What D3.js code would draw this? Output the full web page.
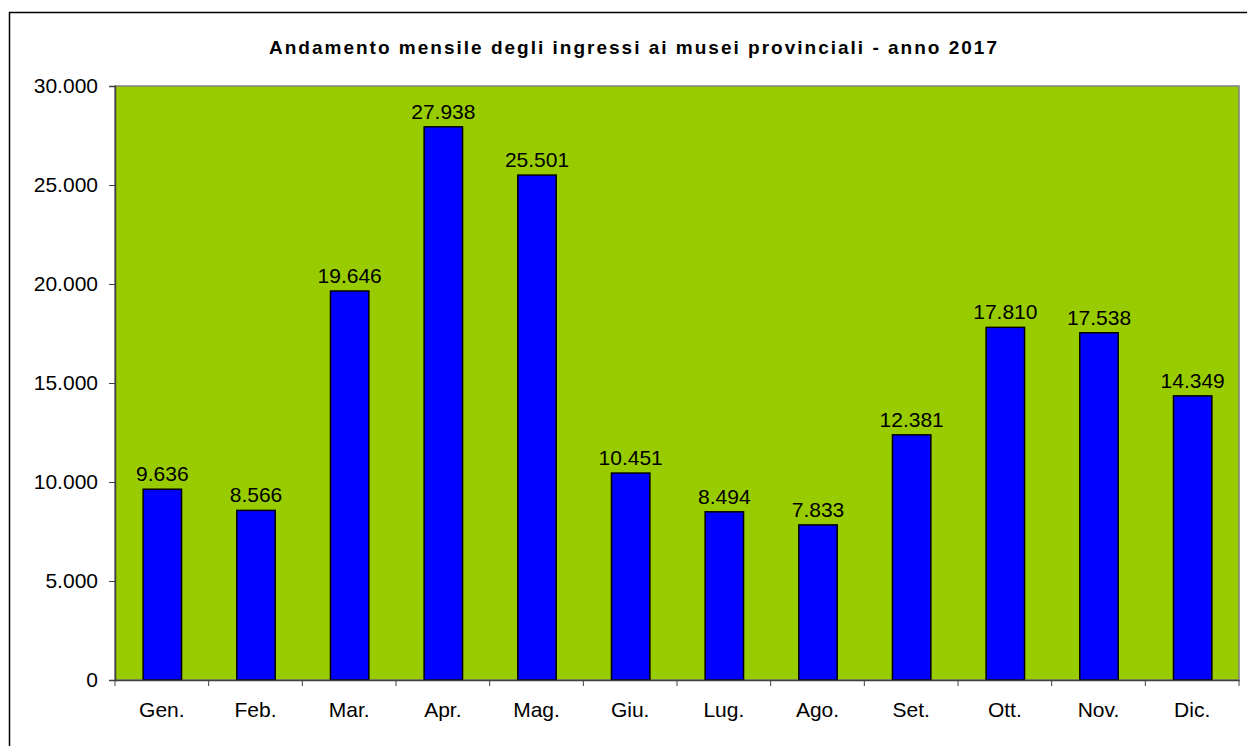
<!DOCTYPE html>
<meta charset="utf-8">
<head>
  <style>
    body { margin: 0; background: #fff; }
    svg { display: block; font-family: "Liberation Sans", Arial, sans-serif; }
    .tick text { font-size: 21px; fill: #000; }
    .val { font-size: 21px; fill: #000; }
    .title { font-size: 19px; font-weight: bold; }
  </style>
</head>
<body>
  <script src="https://d3js.org/d3.v7.min.js"></script>
  <script>
    const months = ["Gen.", "Feb.", "Mar.", "Apr.", "Mag.", "Giu.", "Lug.", "Ago.", "Set.", "Ott.", "Nov.", "Dic."];
    const visitors = [9636, 8566, 19646, 27938, 25501, 10451, 8494, 7833, 12381, 17810, 17538, 14349];
    const yTicks = [0, 5000, 10000, 15000, 20000, 25000, 30000];
    const title = "Andamento mensile degli ingressi ai musei provinciali - anno 2017";

    const W = 1247, H = 746;
    const plot = {left: 115, top: 86, right: 1239, bottom: 680};

    const fmt = d3.formatLocale({decimal: ",", thousands: ".", grouping: [3], currency: ["", "€"]}).format(",d");

    const svg = d3.select("body").append("svg")
      .attr("width", W).attr("height", H);

    // outer frame
    svg.append("rect")
      .attr("x", 9.5).attr("y", 12.5)
      .attr("width", W + 10).attr("height", H + 10)
      .attr("fill", "none").attr("stroke", "#000").attr("stroke-width", 1.5);

    svg.append("text")
      .attr("class", "title")
      .attr("x", 633).attr("y", 54)
      .attr("text-anchor", "middle")
      .attr("textLength", 728).attr("lengthAdjust", "spacing")
      .text(title);

    const x = d3.scaleBand().domain(months).range([plot.left, plot.right]);
    const y = d3.scaleLinear().domain([0, 30000]).range([plot.bottom, plot.top]);

    // plot area
    svg.append("rect")
      .attr("x", plot.left).attr("y", plot.top)
      .attr("width", plot.right - plot.left).attr("height", plot.bottom - plot.top)
      .attr("fill", "#99CC00").attr("stroke", "#808080").attr("stroke-width", 1.5);

    const barW = x.bandwidth() * 0.41;
    svg.append("g").selectAll("rect")
      .data(visitors)
      .join("rect")
      .attr("x", (d, i) => x(months[i]) + x.bandwidth() / 2 - barW / 2 + 0.5)
      .attr("y", d => y(d))
      .attr("width", barW)
      .attr("height", d => y(0) - y(d))
      .attr("fill", "#0000FF")
      .attr("stroke", "#000")
      .attr("stroke-width", 1.5);

    svg.append("g").selectAll("text")
      .data(visitors)
      .join("text")
      .attr("class", "val")
      .attr("x", (d, i) => x(months[i]) + x.bandwidth() / 2 + 0.5)
      .attr("y", d => y(d) - 8)
      .attr("text-anchor", "middle")
      .text(d => fmt(d));

    // y axis
    const yAxis = svg.append("g")
      .attr("transform", `translate(${plot.left},0)`)
      .call(d3.axisLeft(y).tickValues(yTicks).tickFormat(fmt).tickSize(6).tickPadding(11));
    yAxis.select(".domain").attr("stroke", "#404040").attr("stroke-width", 1.5);
    yAxis.selectAll(".tick line").attr("stroke", "#404040");

    // x axis with ticks at category boundaries
    const xAxis = svg.append("g")
      .attr("transform", `translate(0,${plot.bottom})`)
      .call(d3.axisBottom(x).tickSize(0).tickPadding(22));
    xAxis.select(".domain").attr("stroke", "#404040").attr("stroke-width", 1.5);
    xAxis.selectAll(".tick text").attr("dy", "0.71em");
    xAxis.append("g").selectAll("line")
      .data(months.concat(["end"]))
      .join("line")
      .attr("x1", (d, i) => i < months.length ? x(d) : plot.right)
      .attr("x2", (d, i) => i < months.length ? x(d) : plot.right)
      .attr("y1", 0).attr("y2", 6)
      .attr("stroke", "#404040");
  </script>
</body>
